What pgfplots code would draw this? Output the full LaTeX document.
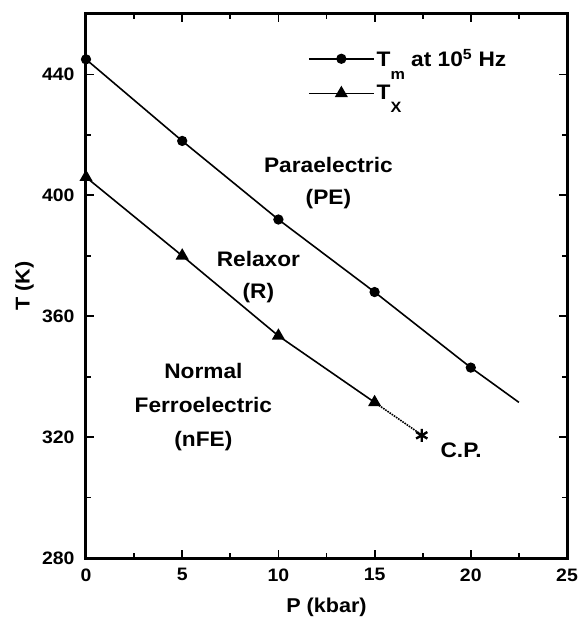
\documentclass[border=0pt]{standalone}
\usepackage{fontspec}
\setmainfont{Liberation Sans}[FakeStretch=1.08]
\usepackage{pgfplots}
\pgfplotsset{compat=1.18}
\newcommand\lsub[1]{\raisebox{-0.6em}{\fontsize{15}{15}\selectfont #1}}
\begin{document}
\begin{tikzpicture}
\begin{axis}[
  scale only axis,
  width=481pt, height=544pt,
  xmin=0, xmax=25, ymin=280, ymax=460,
  xtick={0,5,10,15,20,25},
  ytick={280,320,360,400,440},
  minor xtick={2.5,7.5,12.5,17.5,22.5},
  minor ytick={300,340,380,420,460},
  tick align=inside,
  major tick length=8pt, minor tick length=5pt,
  every tick/.style={line width=1.8pt, black},
  axis line style={line width=3pt},
  /pgf/number format/assume math mode=true,
  tick label style={font=\fontsize{18}{21}\selectfont\bfseries},
  xticklabel style={yshift=-7pt},
  yticklabel style={xshift=-8pt},
  xlabel={P (kbar)}, ylabel={T (K)},
  label style={font=\fontsize{20}{24}\selectfont\bfseries},
  xlabel style={at={(axis description cs:0.5,0)}, anchor=center, yshift=-49pt},
  ylabel style={at={(axis description cs:-0.128,0.5)}, anchor=center},
  legend style={at={(0.455,0.943)}, anchor=north west, draw=none, fill=none,
     font=\fontsize{21}{24}\selectfont\bfseries, row sep=13pt},
  legend cell align=left,
  legend image code/.code={\draw[mark repeat=2,mark phase=2] plot coordinates {(0pt,0pt) (32.5pt,0pt) (65pt,0pt)};},
]
\coordinate (SW) at (rel axis cs:0,0);
\coordinate (NE) at (rel axis cs:1,1);
\addplot[black, line width=1.6pt, mark=*, mark size=4.3pt, mark options={solid}]
  coordinates {(0,445) (5,418) (10,392) (15,368) (20,343)};
\addlegendentry{T\lsub{m} at 10\textsuperscript{5} Hz}
\addplot[black, line width=1.6pt, mark=triangle*, mark size=6pt]
  coordinates {(0,406) (5,380) (10,353.5) (15,331.5)};
\addlegendentry{T\lsub{X}}
\addplot[black, line width=1.6pt, forget plot] coordinates {(20,343) (22.5,331.5)};
\addplot[black, line width=1.6pt, densely dotted, forget plot] coordinates {(15,331.5) (17.5,320.5)};
\addplot[black, only marks, mark=asterisk, mark size=6.5pt, line width=2.4pt, forget plot] coordinates {(17.45,320.6)};
\node[font=\fontsize{21}{32}\selectfont\bfseries, align=center] at (axis cs:12.6,404) {Paraelectric\\(PE)};
\node[font=\fontsize{21}{32}\selectfont\bfseries, align=center] at (axis cs:8.96,372.8) {Relaxor\\(R)};
\node[font=\fontsize{21}{34}\selectfont\bfseries, align=center] at (axis cs:6.1,330) {Normal\\Ferroelectric\\(nFE)};
\node[font=\fontsize{21}{24}\selectfont\bfseries] at (axis cs:19.5,315.7) {C.P.};
\end{axis}
\pgfresetboundingbox
\useasboundingbox ([shift={(-86pt,-68pt)}]SW) rectangle ([shift={(11pt,14pt)}]NE);
\end{tikzpicture}
\end{document}
